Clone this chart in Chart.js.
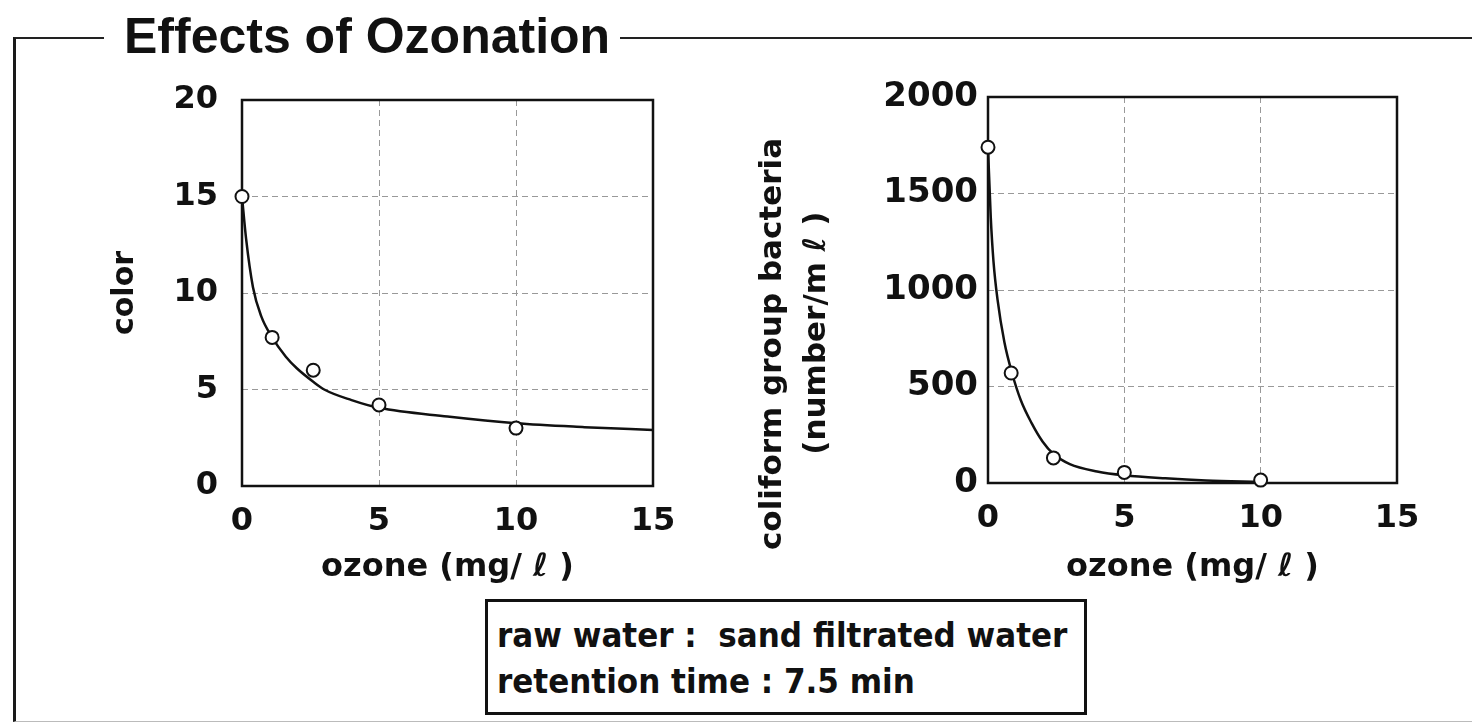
<!DOCTYPE html>
<html>
<head>
<meta charset="utf-8">
<title>Effects of Ozonation</title>
<script src="https://cdn.jsdelivr.net/npm/chart.js@4.4.1/dist/chart.umd.min.js"></script>
<style>
  html, body { margin: 0; padding: 0; background: #fff; }
  body {
    width: 1472px; height: 722px; position: relative; overflow: hidden;
    font-family: "DejaVu Sans", sans-serif; color: #111;
  }
  /* outer frame, open on the right like the scan */
  .frame {
    position: absolute; left: 13px; top: 37px; width: 1480px; height: 682px;
    border-left: 3px solid #1a1a1a; border-top: 2px solid #222; border-bottom: 1px solid #bbb;
  }
  .heading {
    position: absolute; left: 104px; top: 11px; padding: 0 10px 0 20px; background: #fff;
    font-family: "Liberation Sans", Arial, sans-serif; font-weight: bold;
    font-size: 50px; line-height: 50px; color: #111;
  }
  .plot { position: absolute; top: 80px; }
  #leftChart { left: 100px; }
  #rightChart { left: 740px; }
  .note {
    position: absolute; left: 485px; top: 599px; width: 602px; height: 116px;
    box-sizing: border-box; border: 3px solid #111; padding: 10px 0 0 9px; background: #fff;
    font-family: "DejaVu Sans Condensed", "DejaVu Sans", sans-serif; font-stretch: condensed;
    font-weight: bold; font-size: 34.5px; line-height: 46px; white-space: pre; color: #111;
  }
</style>
</head>
<body>
<div class="frame"></div>
<div class="heading">Effects of Ozonation</div>
<canvas id="leftChart" class="plot" width="600" height="520"></canvas>
<canvas id="rightChart" class="plot" width="700" height="520"></canvas>
<div class="note">raw water :  sand filtrated water
retention time : 7.5 min</div>

<script>
// values
const ozoneColor = [0, 1.1, 2.6, 5, 10];
const colorMeasured = [15, 7.7, 6.0, 4.2, 3.0];
const colorCurveX = [0, 0.15, 0.4, 0.7, 1.1, 1.6, 2, 2.6, 3, 4, 5, 7.5, 10, 12.5, 15];
const colorCurveY = [15, 12.8, 10.3, 8.8, 7.7, 6.7, 6.1, 5.4, 5.0, 4.45, 4.05, 3.6, 3.25, 3.05, 2.9];

const ozoneColi = [0, 0.85, 2.4, 5, 10];
const coliMeasured = [1740, 570, 130, 55, 15];
const coliCurveX = [0, 0.1, 0.2, 0.35, 0.6, 0.88, 1.2, 1.6, 2, 2.4, 3, 4, 5, 6.5, 8, 10];
const coliCurveY = [1740, 1380, 1150, 950, 730, 570, 430, 310, 215, 150, 98, 60, 40, 24, 13, 6];

const ozoneTicks = [0, 5, 10, 15];
const colorTicks = [0, 5, 10, 15, 20];
const coliTicks = [0, 500, 1000, 1500, 2000];

const INK = "#111";
Chart.defaults.font.family = "'DejaVu Sans', sans-serif";
Chart.defaults.font.weight = "bold";
Chart.defaults.color = INK;

const toPoints = (xs, ys) => xs.map((x, i) => ({ x: x, y: ys[i] }));
const useTicks = (values) => (scale) => {
  scale.ticks = values.map((v) => ({ value: v }));
};
const plain = (v) => String(v);

// solid box round the plot area
const plotFrame = {
  id: "plotFrame",
  beforeDatasetsDraw(chart) {
    const { ctx, chartArea: a } = chart;
    ctx.save();
    ctx.strokeStyle = INK;
    ctx.lineWidth = 2.5;
    ctx.strokeRect(a.left, a.top, a.right - a.left, a.bottom - a.top);
    ctx.restore();
  },
};

function ozoneChart(canvas, o) {
  return new Chart(canvas, {
    type: "scatter",
    data: {
      datasets: [
        {
          data: toPoints(o.x, o.y),
          pointRadius: 6.5,
          pointBackgroundColor: "#fff",
          pointBorderColor: INK,
          pointBorderWidth: 2,
          clip: false,
        },
        {
          data: toPoints(o.curveX, o.curveY),
          showLine: true,
          pointRadius: 0,
          borderColor: INK,
          borderWidth: 2.5,
          cubicInterpolationMode: "monotone",
          clip: false,
        },
      ],
    },
    options: {
      responsive: false,
      animation: false,
      devicePixelRatio: 1,
      layout: { padding: o.padding },
      plugins: { legend: { display: false }, tooltip: { enabled: false } },
      scales: {
        x: {
          type: "linear",
          min: 0,
          max: 15,
          afterBuildTicks: useTicks(ozoneTicks),
          afterFit: (s) => {
            s.height = o.xHeight;
            s.paddingLeft = 0;
            s.paddingRight = 0;
          },
          grid: { color: "#999", lineWidth: 1, drawTicks: false },
          border: { display: false, dash: [6, 4] },
          ticks: { padding: 16, maxRotation: 0, autoSkip: false, callback: plain, font: { size: 32 } },
          title: {
            display: true,
            text: "ozone (mg/ ℓ )",
            font: { size: 32 },
            padding: { top: 0, bottom: 13 },
          },
        },
        y: {
          type: "linear",
          min: 0,
          max: o.yMax,
          afterBuildTicks: useTicks(o.yTicks),
          afterFit: (s) => {
            s.width = o.yWidth;
            s.paddingTop = 0;
            s.paddingBottom = 0;
          },
          grid: { color: "#999", lineWidth: 1, drawTicks: false },
          border: { display: false, dash: [6, 4] },
          ticks: { padding: o.yTickPad, autoSkip: false, callback: plain, font: { size: o.yTickSize } },
          title: {
            display: true,
            text: o.yTitle,
            font: { size: o.yTitleSize, lineHeight: o.yTitleLine },
            padding: { top: o.yTitlePad, bottom: 0 },
          },
        },
      },
    },
    plugins: [plotFrame],
  });
}

ozoneChart(document.getElementById("leftChart"), {
  x: ozoneColor, y: colorMeasured, curveX: colorCurveX, curveY: colorCurveY,
  yMax: 20, yTicks: colorTicks,
  padding: { top: 20, right: 47, bottom: 0, left: 0 },
  xHeight: 114, yWidth: 142, yTickPad: 24, yTickSize: 32,
  yTitle: "color", yTitleSize: 30, yTitleLine: 1.2, yTitlePad: 7,
});

// trailing spaces push the rotated title down, as in the scan
ozoneChart(document.getElementById("rightChart"), {
  x: ozoneColi, y: coliMeasured, curveX: coliCurveX, curveY: coliCurveY,
  yMax: 2000, yTicks: coliTicks,
  padding: { top: 17, right: 43, bottom: 0, left: 0 },
  xHeight: 117, yWidth: 248, yTickPad: 10, yTickSize: 34,
  yTitle: ["coliform group bacteria          ", "(number/m ℓ )        "],
  yTitleSize: 31, yTitleLine: 1.45, yTitlePad: 10,
});
</script>
</body>
</html>
